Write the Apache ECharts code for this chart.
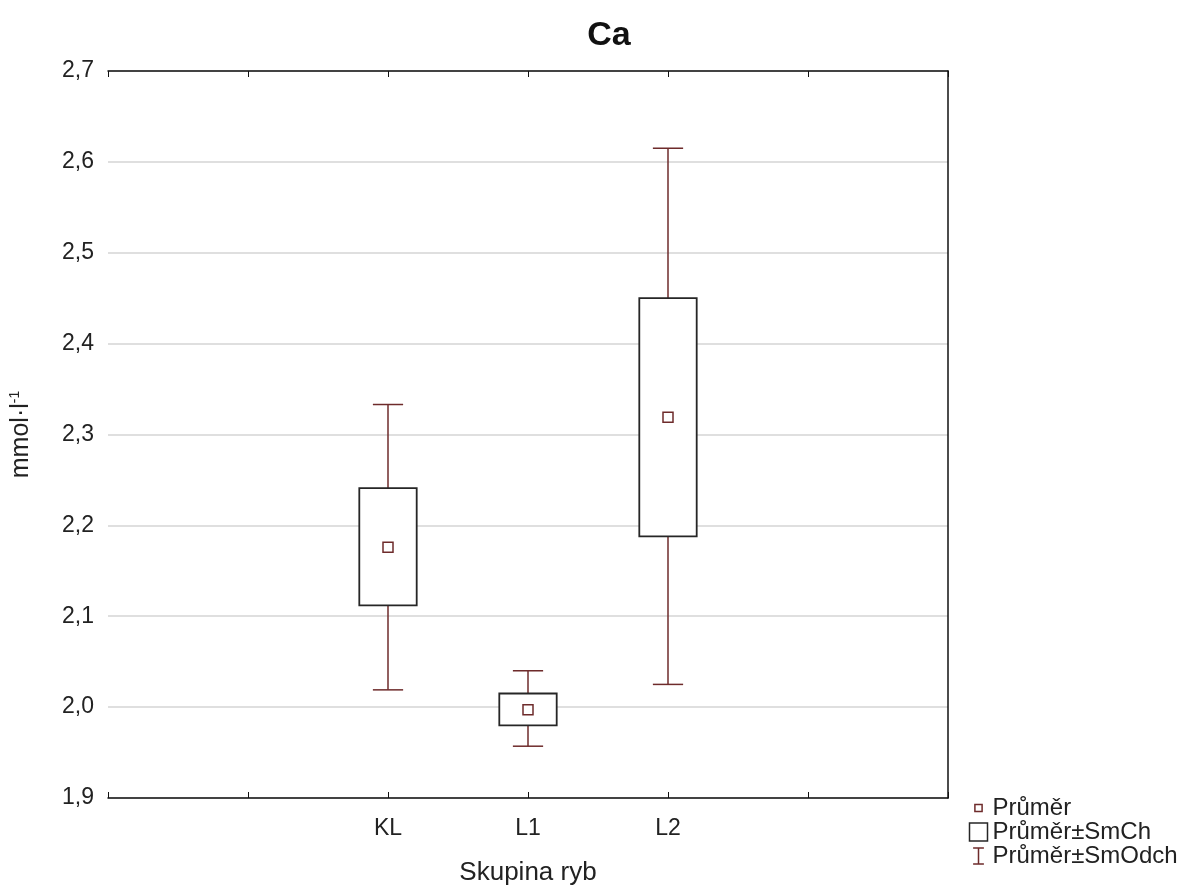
<!DOCTYPE html>
<html>
<head>
<meta charset="utf-8">
<script src="https://cdn.jsdelivr.net/npm/echarts@6/dist/echarts.min.js"></script>
<style>
  html, body { margin: 0; padding: 0; background: #fff; }
  #chart { width: 1191px; height: 891px; }
</style>
</head>
<body>
<div id="chart"></div>
<script>
// skupiny ryb
var categories = ['KL', 'L1', 'L2'];
// průměr a meze (SmCh = box, SmOdch = vousy)
var meanVals = [2.176, 1.997, 2.319];
var seLow = [2.112, 1.980, 2.188];
var seHigh = [2.241, 2.015, 2.450];
var sdLow = [2.019, 1.957, 2.025];
var sdHigh = [2.333, 2.040, 2.615];
var yTicks = [1.9, 2.0, 2.1, 2.2, 2.3, 2.4, 2.5, 2.6, 2.7];

var axisCats = ['', ''].concat(categories, ['', '']);
var red = '#6e2b2b';
var dark = '#262626';
var font = '"Liberation Sans", Arial, sans-serif';

var myChart = echarts.init(document.getElementById('chart'));

var boxData = categories.map(function (c, i) { return [c, seLow[i], seHigh[i]]; });
var whiskerData = categories.map(function (c, i) { return [c, sdLow[i], sdHigh[i]]; });
var meanData = categories.map(function (c, i) { return [c, meanVals[i]]; });

var option = {
    animation: false,
    backgroundColor: '#fff',
    title: {
        text: 'Ca',
        left: 604,
        top: 14,
        textAlign: 'center',
        textStyle: { fontFamily: font, fontWeight: 'bold', fontSize: 34, color: '#111' }
    },
    grid: { left: 108, right: 243, top: 71, bottom: 93 },
    legend: {
        orient: 'vertical',
        left: 962,
        top: 791,
        itemWidth: 18,
        itemHeight: 18,
        itemGap: 0,
        selectedMode: false,
        textStyle: { fontFamily: font, fontSize: 24, color: '#222' },
        data: [
            { name: 'Průměr', icon: 'path://M0,0M20,20M6,6L14,6L14,14L6,14Z',
              itemStyle: { color: '#fff', borderColor: red, borderWidth: 1.5 } },
            { name: 'Průměr±SmCh', icon: 'path://M1,1L19,1L19,19L1,19Z',
              itemStyle: { color: '#fff', borderColor: dark, borderWidth: 1.5 } },
            { name: 'Průměr±SmOdch', icon: 'path://M0,0M20,20M4,1L16,1M10,1L10,19M4,19L16,19',
              itemStyle: { color: 'none', borderColor: red, borderWidth: 1.5 } }
        ]
    },
    xAxis: [
        {
            type: 'category',
            data: axisCats,
            boundaryGap: false,
            position: 'bottom',
            name: 'Skupina ryb',
            nameLocation: 'middle',
            nameGap: 62,
            nameTextStyle: { fontFamily: font, fontSize: 26, color: '#222' },
            axisLine: { lineStyle: { color: '#111', width: 1.5 } },
            axisTick: { inside: true, length: 6, interval: 0, lineStyle: { color: '#111' } },
            axisLabel: { interval: 0, margin: 19, fontFamily: font, fontSize: 23, color: '#222' },
            splitLine: { show: false }
        },
        {
            type: 'category',
            data: axisCats,
            boundaryGap: false,
            position: 'top',
            axisLine: { lineStyle: { color: '#111', width: 1.5 } },
            axisTick: { inside: true, length: 6, interval: 0, lineStyle: { color: '#111' } },
            axisLabel: { show: false },
            splitLine: { show: false }
        }
    ],
    yAxis: [
        {
            type: 'value',
            min: 1.9,
            max: 2.7,
            interval: 0.1,
            position: 'left',
            name: '{a|mmol·l}{s|-1}',
            nameLocation: 'middle',
            nameRotate: 90,
            nameGap: 74,
            nameTextStyle: {
                fontFamily: font, fontSize: 25, color: '#222',
                rich: {
                    a: { fontFamily: font, fontSize: 25, color: '#222' },
                    s: { fontFamily: font, fontSize: 14, color: '#222', verticalAlign: 'top', padding: [0, 0, 12, 0] }
                }
            },
            axisLine: { lineStyle: { color: '#111', width: 1.5 } },
            axisTick: { inside: true, length: 6, lineStyle: { color: '#111' } },
            axisLabel: {
                margin: 14, fontFamily: font, fontSize: 23, color: '#222',
                formatter: function (v) { return v.toFixed(1).replace('.', ','); }
            },
            splitLine: { lineStyle: { color: '#d4d4d4', width: 1.5 } }
        },
        {
            type: 'value',
            min: 1.9,
            max: 2.7,
            interval: 0.1,
            position: 'right',
            axisLine: { show: true, lineStyle: { color: '#111', width: 1.5 } },
            axisTick: { inside: true, length: 6, lineStyle: { color: '#111' } },
            axisLabel: { show: false },
            splitLine: { show: false }
        }
    ],
    series: [
        {
            name: 'Průměr±SmOdch',
            type: 'custom',
            itemStyle: { color: 'none', borderColor: red },
            data: whiskerData,
            renderItem: function (params, api) {
                var x = api.value(0);
                var lo = api.coord([x, api.value(1)]);
                var hi = api.coord([x, api.value(2)]);
                var half = api.size([1, 0])[0] * 0.108;
                var st = { stroke: red, lineWidth: 1.5 };
                return {
                    type: 'group',
                    children: [
                        { type: 'line', shape: { x1: lo[0], y1: lo[1], x2: hi[0], y2: hi[1] }, style: st },
                        { type: 'line', shape: { x1: lo[0] - half, y1: lo[1], x2: lo[0] + half, y2: lo[1] }, style: st },
                        { type: 'line', shape: { x1: hi[0] - half, y1: hi[1], x2: hi[0] + half, y2: hi[1] }, style: st }
                    ]
                };
            }
        },
        {
            name: 'Průměr±SmCh',
            type: 'custom',
            itemStyle: { color: '#fff', borderColor: dark },
            data: boxData,
            renderItem: function (params, api) {
                var x = api.value(0);
                var lo = api.coord([x, api.value(1)]);
                var hi = api.coord([x, api.value(2)]);
                var w = api.size([1, 0])[0] * 0.41;
                return {
                    type: 'rect',
                    shape: { x: lo[0] - w / 2, y: hi[1], width: w, height: lo[1] - hi[1] },
                    style: { fill: '#fff', stroke: dark, lineWidth: 1.8 }
                };
            }
        },
        {
            name: 'Průměr',
            type: 'scatter',
            symbol: 'rect',
            symbolSize: 10,
            itemStyle: { color: '#fff', borderColor: red, borderWidth: 1.5, opacity: 1 },
            data: meanData,
            z: 5
        }
    ]
};

myChart.setOption(option);
</script>
</body>
</html>
